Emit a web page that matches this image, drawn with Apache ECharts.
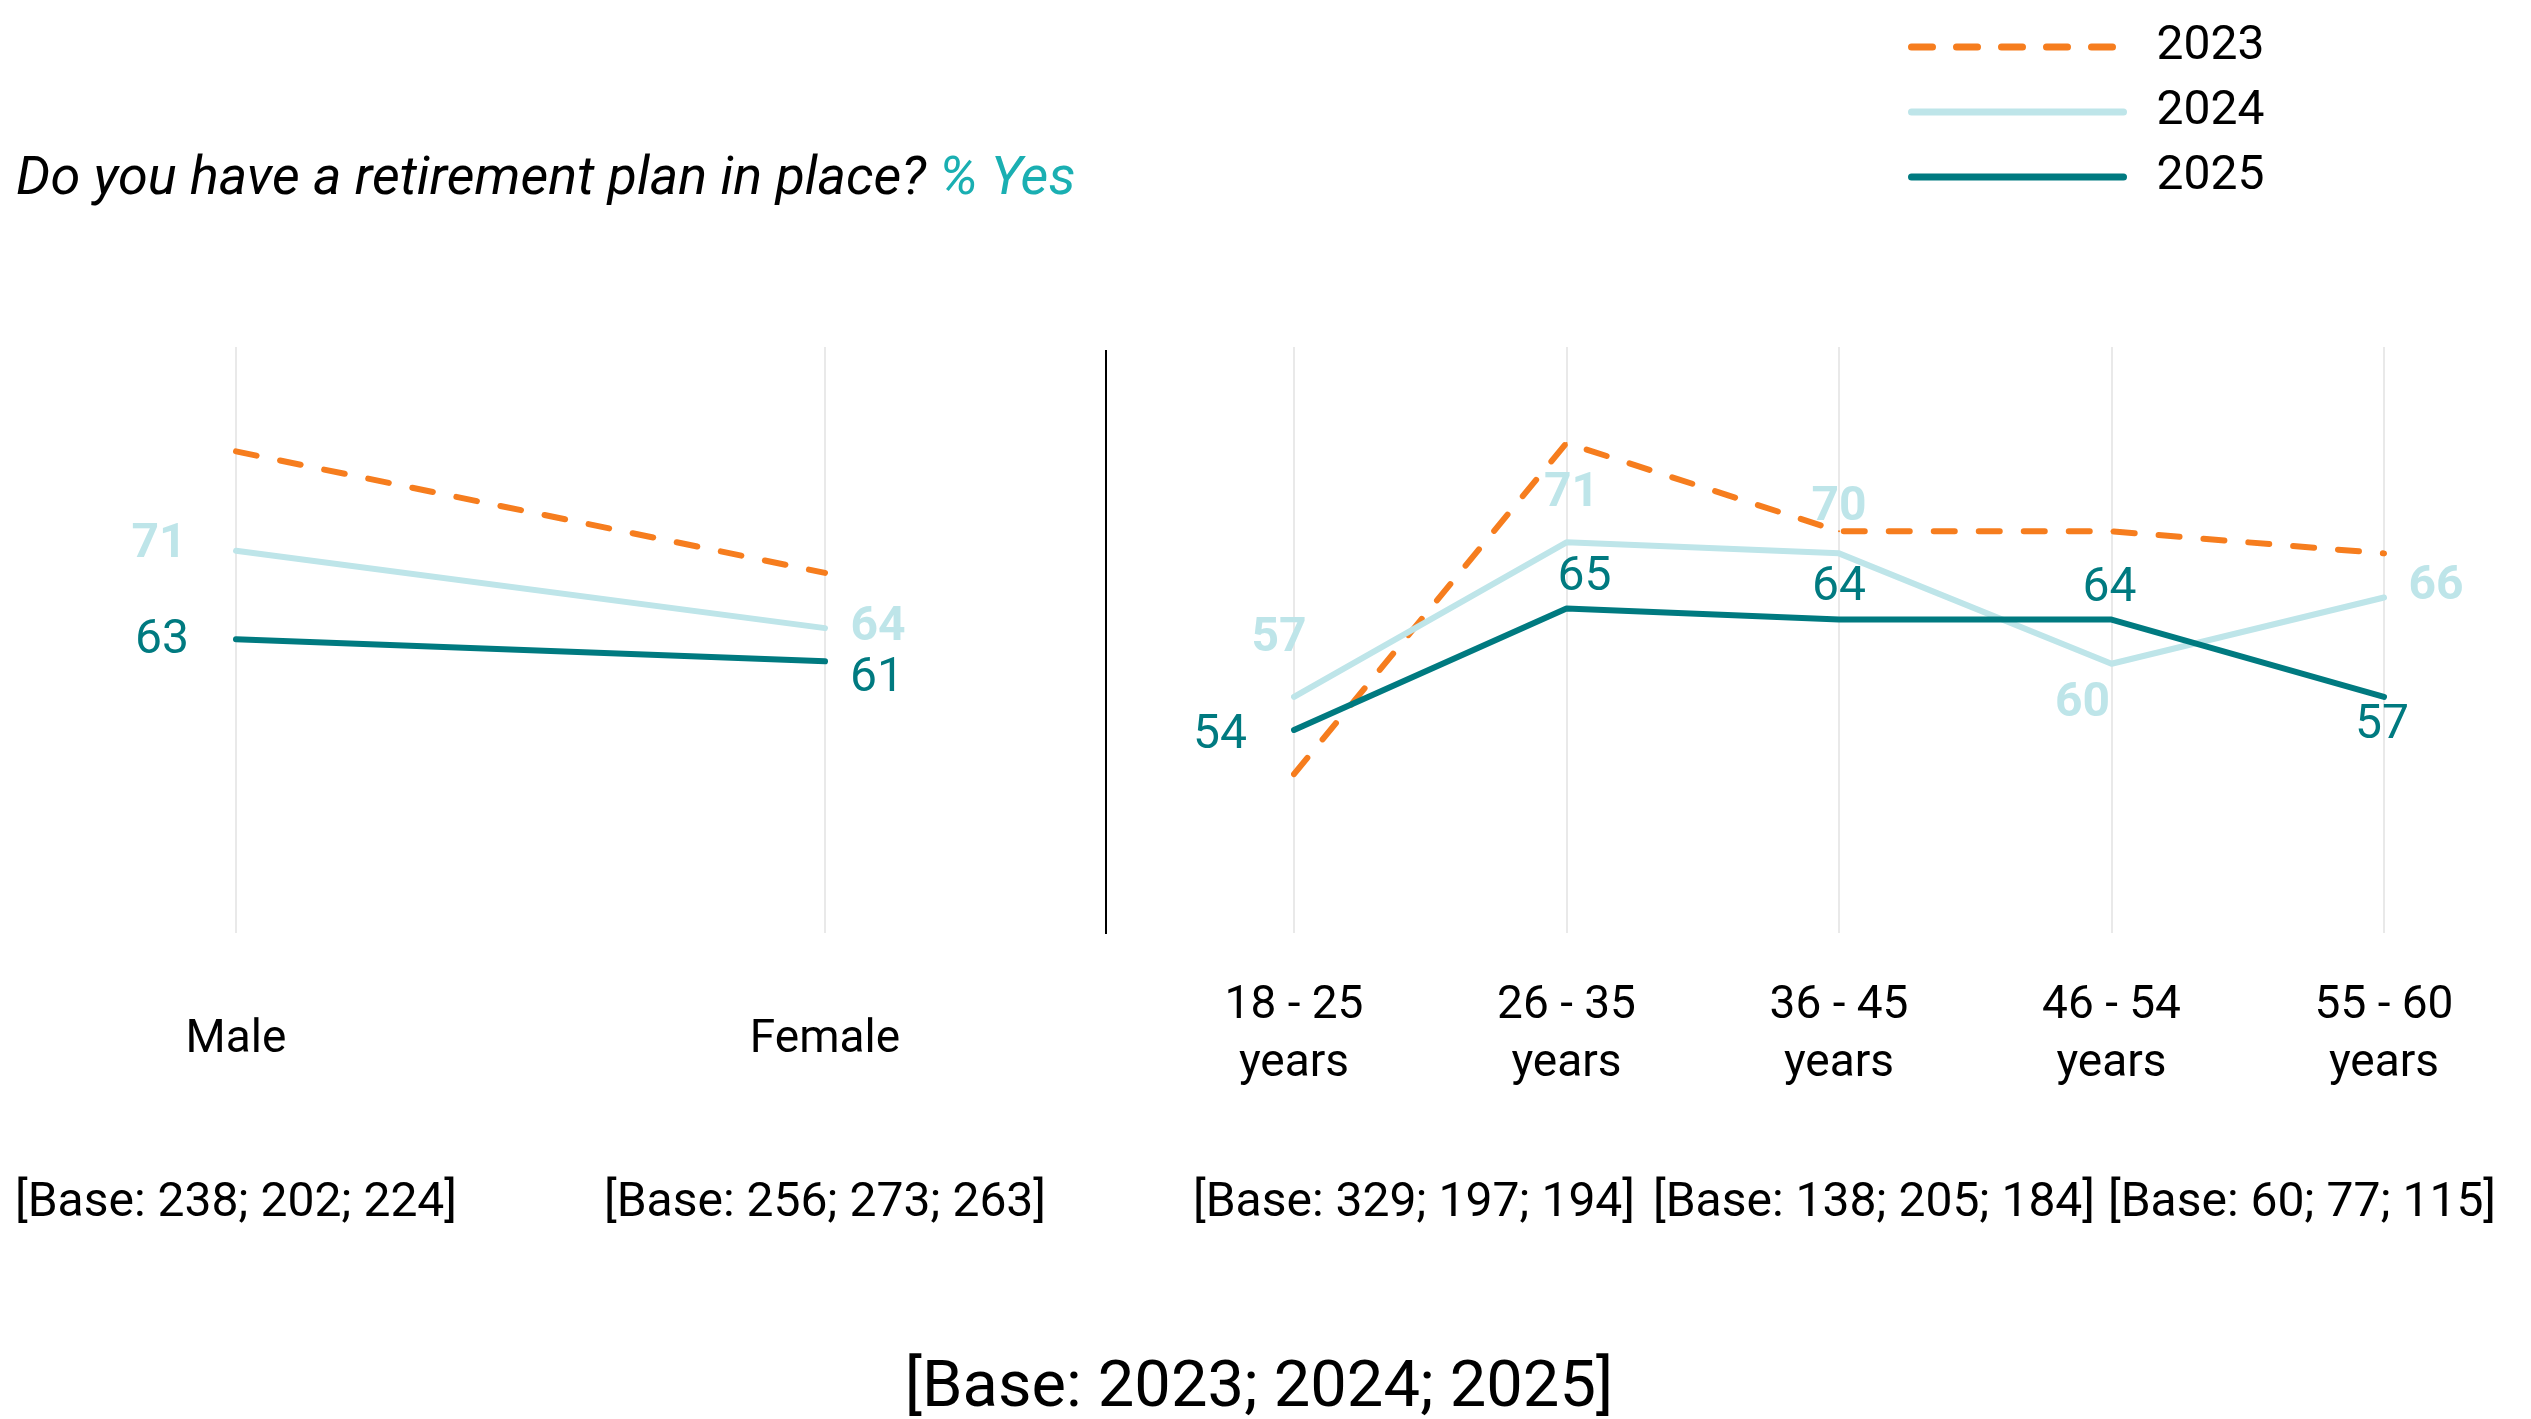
<!DOCTYPE html>
<html>
<head>
<meta charset="utf-8">
<script src="https://cdn.jsdelivr.net/npm/echarts@6/dist/echarts.min.js"></script>
<style>
html,body{margin:0;padding:0;background:#fff;}
#chart{width:2531px;height:1419px;}
</style>
</head>
<body>
<div id="chart"></div>
<script>
// ---- data ----
const genderCategories = ['Male', 'Female'];
const ageCategories = ['18 - 25\nyears', '26 - 35\nyears', '36 - 45\nyears', '46 - 54\nyears', '55 - 60\nyears'];
const seriesNames = ['2023', '2024', '2025'];

const gender2023 = [80, 69];
const gender2024 = [71, 64];
const gender2025 = [63, 61];

const age2023 = [50, 80, 72, 72, 70];
const age2024 = [57, 71, 70, 60, 66];
const age2025 = [54, 65, 64, 64, 57];

const genderBases = ['[Base: 238; 202; 224]', '[Base: 256; 273; 263]'];
const ageBases = ['[Base: 329; 197; 194]', '[Base: 138; 205; 184]', '[Base: 60; 77; 115]'];
const footnote = '[Base: 2023; 2024; 2025]';
const titleMain = 'Do you have a retirement plan in place?';
const titleAccent = '% Yes';

// ---- styling ----
const C2023 = '#F67D1E';
const C2024 = '#BEE5E9';
const C2025 = '#007A80';
const FONT = 'Roboto, "Noto Sans", sans-serif';

// label centre offsets (px) relative to each point
const offG2024 = [[-77, -6], [53, 0]];
const offG2025 = [[-74, 2], [52, 18]];
const offA2024 = [[-15, -58], [5, -48], [0, -45], [-29, 40], [52, -11]];
const offA2025 = [[-74, 6], [18, -31], [0, -32], [-2, -31], [-2, 29]];

function withLabels(values, offsets, color, weight) {
  return values.map((v, i) => ({
    value: v,
    label: {
      show: true, position: 'inside', offset: offsets[i],
      align: 'center', verticalAlign: 'middle',
      color: color, fontSize: 48, fontWeight: weight, fontFamily: FONT,
      formatter: '{c}'
    }
  }));
}

function lineSeries(name, data, color, dashed, xi) {
  return {
    name: name, type: 'line', xAxisIndex: xi, yAxisIndex: xi,
    data: data, symbol: 'circle', symbolSize: 2, silent: true,
    itemStyle: { color: color },
    lineStyle: { color: color, width: 6, type: dashed ? [21, 24] : 'solid', cap: 'round', join: 'round' },
    label: { show: false },
    animation: false, z: name === '2025' ? 4 : (name === '2024' ? 3 : 2)
  };
}

const catAxisBase = {
  type: 'category', boundaryGap: false,
  axisLine: { show: false }, axisTick: { show: false },
  splitLine: { show: true, lineStyle: { color: '#e2e2e2', width: 1.5 } }
};

const baseText = (t, x) => ({ type: 'text', x: x, y: 1204,
  style: { text: t, fontSize: 48, fontFamily: FONT, fill: '#000', align: 'center', verticalAlign: 'middle' } });

const chart = echarts.init(document.getElementById('chart'));
chart.setOption({
  backgroundColor: '#fff',
  animation: false,
  grid: [
    { left: 236, width: 589, top: 347, height: 586 },
    { left: 1294, width: 1090, top: 347, height: 586 }
  ],
  xAxis: [
    Object.assign({}, catAxisBase, { gridIndex: 0, data: genderCategories,
      axisLabel: { margin: 78, color: '#000', fontSize: 46, fontFamily: FONT, lineHeight: 58 } }),
    Object.assign({}, catAxisBase, { gridIndex: 1, data: ageCategories,
      axisLabel: { margin: 44, color: '#000', fontSize: 46, fontFamily: FONT, lineHeight: 58 } })
  ],
  yAxis: [
    { type: 'value', gridIndex: 0, min: 36.4, max: 89.45, show: false },
    { type: 'value', gridIndex: 1, min: 35.6, max: 88.7, show: false }
  ],
  legend: {
    orient: 'vertical', left: 1903, top: 18, itemWidth: 212, itemHeight: 14, itemGap: 17,
    data: seriesNames,
    itemStyle: { opacity: 0 },
    lineStyle: { width: 7, cap: 'round' },
    textStyle: { fontSize: 48, fontFamily: FONT, color: '#000', lineHeight: 48, padding: [0, 0, 0, 28] }
  },
  series: [
    lineSeries('2023', gender2023, C2023, true, 0),
    lineSeries('2024', withLabels(gender2024, offG2024, C2024, 'bold'), C2024, false, 0),
    lineSeries('2025', withLabels(gender2025, offG2025, C2025, 'normal'), C2025, false, 0),
    lineSeries('2023', age2023, C2023, true, 1),
    lineSeries('2024', withLabels(age2024, offA2024, C2024, 'bold'), C2024, false, 1),
    lineSeries('2025', withLabels(age2025, offA2025, C2025, 'normal'), C2025, false, 1)
  ],
  graphic: [
    { type: 'text', x: 16, y: 180, style: {
        text: '{a|' + titleMain + '}{b| ' + titleAccent + '}',
        verticalAlign: 'middle',
        rich: {
          a: { fontSize: 54, fontStyle: 'italic', fontFamily: FONT, fill: '#000' },
          b: { fontSize: 54, fontStyle: 'italic', fontFamily: FONT, fill: '#1AAFB2' }
        } } },
    { type: 'line', shape: { x1: 1106, y1: 350, x2: 1106, y2: 934 }, style: { stroke: '#000', lineWidth: 2 } },
    baseText(genderBases[0], 236),
    baseText(genderBases[1], 825),
    baseText(ageBases[0], 1414),
    baseText(ageBases[1], 1874),
    baseText(ageBases[2], 2302),
    { type: 'text', x: 1259, y: 1390, style: { text: footnote, fontSize: 65, fontFamily: FONT, fill: '#000', align: 'center', verticalAlign: 'middle' } }
  ]
});
</script>
</body>
</html>
